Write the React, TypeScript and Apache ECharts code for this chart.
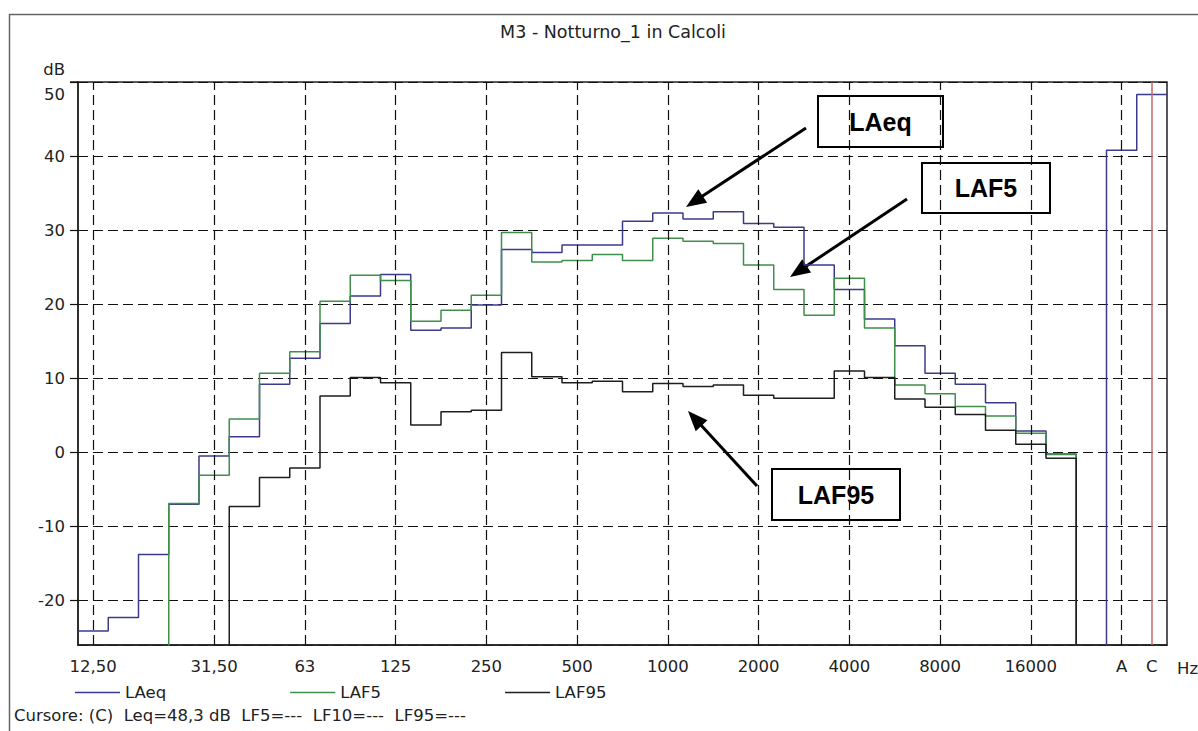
import React, { useEffect, useRef } from "react";
import * as echarts from "echarts";

// ---- data ----
const bands = [
  "12,50", "16", "20", "25", "31,50", "40", "50", "63", "80", "100", "125", "160",
  "200", "250", "315", "400", "500", "630", "800", "1000", "1250", "1600", "2000",
  "2500", "3150", "4000", "5000", "6300", "8000", "10000", "12500", "16000", "20000",
  "", "A", "C",
];
const shownLabels = ["12,50", "31,50", "63", "125", "250", "500", "1000", "2000", "4000", "8000", "16000", "A", "C"];
const gridBands = ["12,50", "31,50", "63", "125", "250", "500", "1000", "2000", "4000", "8000", "16000", "A"];
const cursorBand = "C";
const yTicks = [-20, -10, 0, 10, 20, 30, 40, 50];

// values below the visible range (-26 dB) are drawn off the bottom of the plot
const laeq = [
  -24.1, -22.3, -13.8, -7.0, -0.5, 2.1, 9.2, 12.7, 17.4, 21.1, 24.0, 16.5,
  16.8, 19.9, 27.4, 27.0, 28.0, 28.0, 31.2, 32.3, 31.5, 32.5, 30.9,
  30.4, 25.3, 22.0, 18.0, 14.4, 10.7, 9.2, 6.7, 2.9, -0.2,
  -40, 40.8, 48.3,
];
const laf5 = [
  -40, -40, -40, -6.9, -3.1, 4.5, 10.7, 13.6, 20.4, 23.9, 23.2, 17.7,
  19.2, 21.2, 29.7, 25.7, 25.9, 26.7, 25.9, 28.9, 28.5, 28.2, 25.3,
  22.0, 18.5, 23.5, 16.8, 9.1, 7.9, 6.2, 4.9, 2.6, -0.3,
  -40, -40, -40,
];
const laf95 = [
  -40, -40, -40, -40, -40, -7.3, -3.4, -2.1, 7.6, 10.1, 9.4, 3.7,
  5.5, 5.7, 13.5, 10.2, 9.4, 9.6, 8.2, 9.3, 8.9, 9.1, 7.7,
  7.3, 7.3, 11.0, 10.1, 7.2, 6.1, 5.1, 3.0, 1.1, -0.8,
  -40, -40, -40,
];

const FONT = "DejaVu Sans, Verdana, sans-serif";
const BOLD_FONT = "Liberation Sans, Arial, sans-serif";
const FS = 16.5;

function stepPoints(values: number[]) {
  const pts = values.map((v, i) => [i, v]);
  pts.push([values.length, values[values.length - 1]]);
  return pts;
}

function arrow(x1: number, y1: number, x2: number, y2: number) {
  const dx = x2 - x1;
  const dy = y2 - y1;
  const len = Math.hypot(dx, dy);
  const ux = dx / len;
  const uy = dy / len;
  const hl = 20;
  const hw = 8;
  const bx = x2 - ux * hl;
  const by = y2 - uy * hl;
  return [
    { type: "line", silent: true, shape: { x1, y1, x2: bx + ux * 2, y2: by + uy * 2 }, style: { stroke: "#000", lineWidth: 3 } },
    {
      type: "polygon",
      silent: true,
      shape: { points: [[x2, y2], [bx - uy * hw, by + ux * hw], [bx + uy * hw, by - ux * hw]] },
      style: { fill: "#000" },
    },
  ];
}

function labelBox(x: number, y: number, w: number, h: number, text: string) {
  return [
    { type: "rect", silent: true, shape: { x, y, width: w, height: h }, style: { fill: "#fff", stroke: "#000", lineWidth: 2 } },
    {
      type: "text",
      silent: true,
      x: x + w / 2,
      y: y + h / 2,
      style: {
        text,
        fill: "#000",
        font: `bold 25px ${BOLD_FONT}`,
        align: "center",
        verticalAlign: "middle",
        textAlign: "center",
        textVerticalAlign: "middle",
      },
    },
  ];
}

export default function App() {
  const ref = useRef<HTMLDivElement>(null);

  useEffect(() => {
    if (!ref.current) return;
    const chart = echarts.init(ref.current, null, { renderer: "svg" });

    const dashed = { type: [10, 5], color: "#111", width: 1.2 };
    const vLines: any[] = gridBands.map((b) => ({ xAxis: bands.indexOf(b) + 0.5 }));
    vLines.push({ xAxis: bands.indexOf(cursorBand) + 0.5, lineStyle: { type: "solid", color: "#c46a6a", width: 1.5 } });

    const baseSeries = {
      type: "line",
      xAxisIndex: 1,
      yAxisIndex: 0,
      step: "end",
      symbol: "none",
      showSymbol: false,
      silent: true,
      clip: true,
    };

    const option: any = {
      animation: false,
      backgroundColor: "#fff",
      title: {
        text: "M3 - Notturno_1 in Calcoli",
        left: 608,
        top: 18,
        textAlign: "center",
        textStyle: { fontSize: 17.5, fontWeight: "normal", color: "#222", fontFamily: FONT },
      },
      legend: {
        data: ["LAeq", "LAF5", "LAF95"],
        left: 70,
        top: 679,
        icon: "rect",
        itemWidth: 45,
        itemHeight: 1.5,
        itemGap: 124,
        textStyle: { fontSize: FS, color: "#222", fontFamily: FONT },
        selectedMode: false,
      },
      grid: {
        left: 78,
        top: 82,
        width: 1089,
        height: 563,
        show: true,
        borderColor: "#222",
        borderWidth: 1.5,
        backgroundColor: "transparent",
      },
      xAxis: [
        {
          type: "category",
          data: bands,
          boundaryGap: true,
          axisLine: { show: true, onZero: false, lineStyle: { color: "#222", width: 1.5 } },
          axisTick: { show: false },
          splitLine: { show: false },
          axisLabel: {
            interval: (i: number, v: string) => shownLabels.includes(v),
            margin: 13,
            fontSize: FS,
            color: "#222",
            fontFamily: FONT,
          },
        },
        { type: "value", min: 0, max: bands.length, show: false },
      ],
      yAxis: {
        type: "value",
        min: -26,
        max: 50,
        minInterval: 10,
        maxInterval: 10,
        name: "dB",
        nameLocation: "end",
        nameGap: 4,
        nameTextStyle: { fontSize: FS, color: "#222", fontFamily: FONT, align: "right", padding: [0, 13, 0, 0] },
        axisLine: { show: true, onZero: false, lineStyle: { color: "#222", width: 1.5 } },
        axisTick: { show: true, length: 8, lineStyle: { color: "#111", width: 1.2 } },
        splitLine: { show: true, lineStyle: dashed },
        axisLabel: {
          showMinLabel: false,
          margin: 13,
          fontSize: FS,
          color: "#222",
          fontFamily: FONT,
          formatter: (v: number) => (yTicks.includes(v) ? (v === 50 ? `{top|${v}}` : `${v}`) : ""),
          rich: { top: { fontSize: FS, color: "#222", fontFamily: FONT, padding: [24, 0, 0, 0] } },
        },
      },
      series: [
        {
          ...baseSeries,
          name: "LAeq",
          color: "#3b3b8c",
          lineStyle: { color: "#3b3b8c", width: 1.5 },
          data: stepPoints(laeq),
          markLine: {
            silent: true,
            symbol: ["none", "none"],
            label: { show: false },
            lineStyle: dashed,
            data: vLines,
          },
        },
        {
          ...baseSeries,
          name: "LAF5",
          color: "#3f8f4a",
          lineStyle: { color: "#3f8f4a", width: 1.5 },
          data: stepPoints(laf5),
        },
        {
          ...baseSeries,
          name: "LAF95",
          color: "#1e1e1e",
          lineStyle: { color: "#1e1e1e", width: 1.5 },
          data: stepPoints(laf95),
        },
      ],
      graphic: [
        { type: "rect", silent: true, shape: { x: 9.5, y: 14.5, width: 1400, height: 900 }, style: { fill: "none", stroke: "#666", lineWidth: 1.5 } },
        { type: "line", silent: true, shape: { x1: 70, y1: 82, x2: 78, y2: 82 }, style: { stroke: "#222", lineWidth: 1.5 } },
        {
          type: "text",
          silent: true,
          x: 1177,
          y: 668,
          style: {
            text: "Hz",
            fill: "#222",
            font: `${FS}px ${FONT}`,
            verticalAlign: "middle",
            textVerticalAlign: "middle",
          },
        },
        {
          type: "text",
          silent: true,
          x: 14,
          y: 715,
          style: {
            text: "Cursore: (C)  Leq=48,3 dB  LF5=---  LF10=---  LF95=---",
            fill: "#222",
            font: `${FS}px ${FONT}`,
            verticalAlign: "middle",
            textVerticalAlign: "middle",
          },
        },
        ...labelBox(818, 96, 125, 51, "LAeq"),
        ...labelBox(922, 163, 128, 50, "LAF5"),
        ...labelBox(772, 469, 128, 51, "LAF95"),
        ...arrow(806, 128, 686, 207),
        ...arrow(907, 199, 790, 277),
        ...arrow(757, 486, 688, 411),
      ],
    };

    chart.setOption(option);
    return () => chart.dispose();
  }, []);

  return (
    <div
      ref={ref}
      style={{ position: "fixed", left: 0, top: 0, width: 1198, height: 731, background: "#fff" }}
    />
  );
}
